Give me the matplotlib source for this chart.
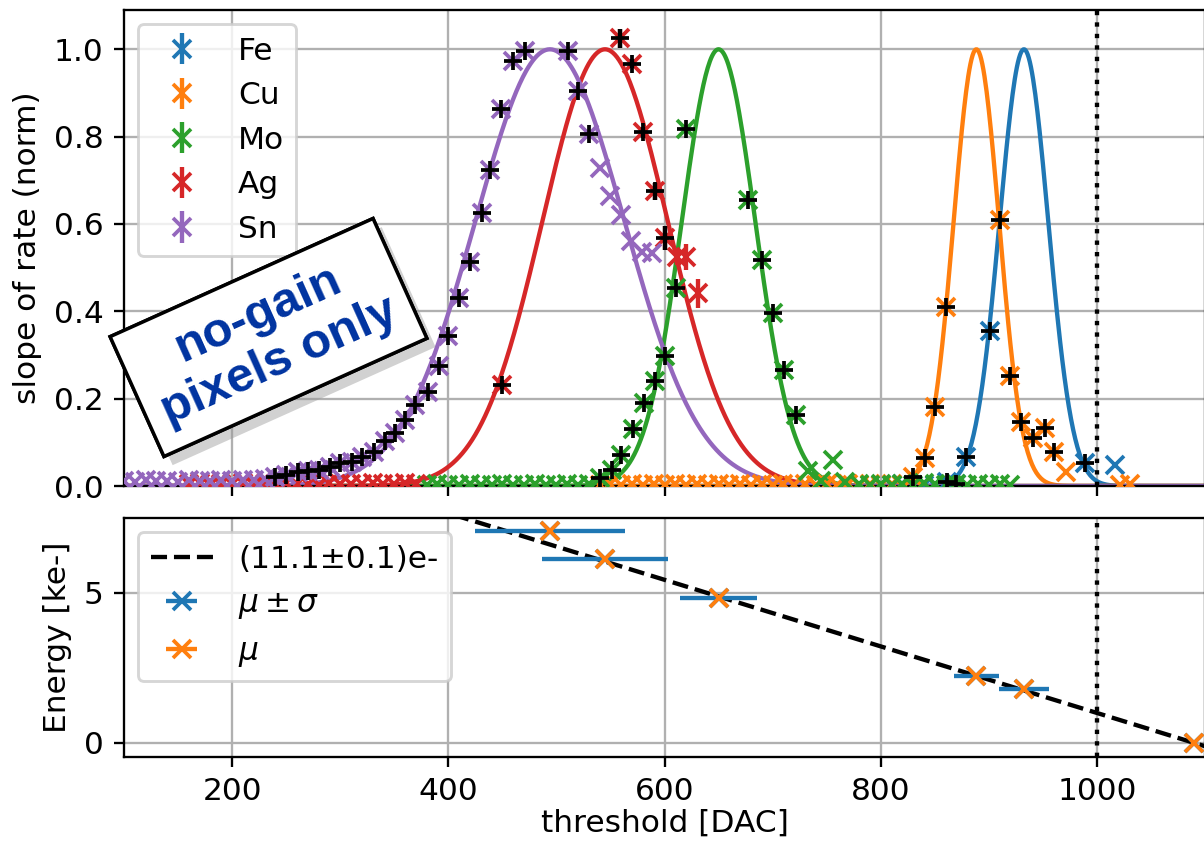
import numpy as np
import matplotlib
matplotlib.use("Agg")
import matplotlib.pyplot as plt
import matplotlib.patheffects as pe

plt.rcParams["font.size"] = 10.8

# ---------------- data ----------------
elements = ["Fe", "Cu", "Mo", "Ag", "Sn"]
colors = ["#1f77b4", "#ff7f0e", "#2ca02c", "#d62728", "#9467bd"]

# Gaussian fit parameters (DAC)
peak_mu = [932.5, 888.5, 650.0, 545.0, 494.0]
peak_sigma = [22.5, 21.0, 34.0, 58.0, 69.0]
# threshold range of points used in the fit (black markers)
fit_lo = [855, 825, 535, 445, 235]
fit_hi = [995, 965, 725, 605, 535]

fe_x = [800, 810, 820, 840, 850, 861, 870, 879, 901, 989, 1017]
fe_y = [0.003, 0.002, 0.004, 0.003, 0.002, 0.010, 0.004, 0.067, 0.354, 0.052, 0.048]

cu_x = [540, 550, 560, 570, 580, 590, 600, 610, 620, 630, 640, 650, 660, 670,
        680, 690, 700, 710, 720, 730, 740, 750, 760, 770, 780, 790, 800, 810,
        820, 830, 841, 850, 860, 910, 920, 930, 941, 952, 960, 971, 1021, 1031]
cu_y = [0.003, 0.004, 0.002, 0.005, 0.003, 0.004, 0.002, 0.005, 0.003, 0.004,
        0.002, 0.004, 0.003, 0.005, 0.002, 0.004, 0.003, 0.004, 0.002, 0.005,
        0.003, 0.004, 0.002, 0.004, 0.003, 0.005, 0.002, 0.004, 0.003, 0.020,
        0.064, 0.180, 0.411, 0.610, 0.252, 0.147, 0.110, 0.133, 0.079, 0.033,
        0.003, 0.005]

mo_x = [380, 390, 400, 410, 420, 430, 440, 450, 460, 470, 480, 490, 500, 510,
        520, 530, 540, 551, 560, 571, 581, 591, 600, 611, 620, 677, 690, 700,
        711, 722, 733, 745, 756, 767, 780, 790, 800, 810, 820, 830, 840, 850,
        860, 870, 880, 890, 900, 910, 920]
mo_y = [0.003, 0.004, 0.002, 0.003, 0.004, 0.002, 0.003, 0.004, 0.002, 0.003,
        0.004, 0.003, 0.002, 0.004, 0.003, 0.004, 0.018, 0.037, 0.071, 0.130,
        0.190, 0.240, 0.298, 0.454, 0.817, 0.656, 0.518, 0.397, 0.266, 0.163,
        0.035, 0.012, 0.060, 0.010, 0.004, 0.003, 0.005, 0.002, 0.004, 0.003,
        0.006, 0.004, 0.003, 0.005, 0.002, 0.004, 0.003, 0.004, 0.002]

ag_x = [160, 170, 180, 190, 200, 210, 220, 230, 240, 250, 260, 270, 280, 290,
        300, 310, 320, 330, 340, 350, 360, 370, 450, 559, 570, 580, 591, 600,
        612, 620, 631]
ag_y = [0.004, 0.006, 0.003, 0.005, 0.004, 0.006, 0.003, 0.005, 0.004, 0.006,
        0.004, 0.005, 0.003, 0.006, 0.004, 0.005, 0.004, 0.006, 0.004, 0.005,
        0.006, 0.005, 0.232, 1.025, 0.967, 0.810, 0.675, 0.568, 0.525, 0.525,
        0.441]
ag_err = [0.003, 0.003, 0.003, 0.003, 0.003, 0.003, 0.003, 0.003, 0.003, 0.003,
          0.003, 0.003, 0.003, 0.003, 0.003, 0.003, 0.003, 0.003, 0.003, 0.003,
          0.003, 0.003, 0.010, 0.022, 0.010, 0.012, 0.019, 0.027, 0.020, 0.030,
          0.033]

sn_x = [100, 110, 120, 130, 140, 150, 160, 170, 180, 190, 200, 210, 220, 230,
        240, 250, 261, 270, 280, 291, 300, 311, 320, 331, 341, 351, 360, 369,
        381, 391, 400, 410, 420, 431, 439, 449, 460, 471, 511, 520, 530, 540,
        550, 560, 569, 579, 588]
sn_y = [0.012, 0.010, 0.013, 0.011, 0.012, 0.010, 0.013, 0.012, 0.011, 0.013,
        0.012, 0.014, 0.013, 0.015, 0.021, 0.025, 0.031, 0.035, 0.037, 0.044,
        0.052, 0.056, 0.066, 0.079, 0.104, 0.122, 0.151, 0.186, 0.216, 0.275,
        0.344, 0.430, 0.513, 0.625, 0.724, 0.864, 0.973, 0.996, 0.996, 0.904,
        0.805, 0.728, 0.665, 0.621, 0.561, 0.536, 0.533]

small_err = 0.003

data_x = [fe_x, cu_x, mo_x, ag_x, sn_x]
data_y = [fe_y, cu_y, mo_y, ag_y, sn_y]
data_err = [None, None, None, ag_err, None]

# calibration panel
cal_mu = [932.5, 888.5, 650.0, 545.0, 494.0, 1090.0]
cal_sigma = [23.0, 21.0, 35.5, 58.0, 69.0, 0.0]
cal_energy = [1.80, 2.24, 4.82, 6.14, 7.05, 0.0]
gain_e_per_dac = 11.1
zero_dac = 1090.0
vline_dac = 1000

# ---------------- figure ----------------
DPI = 208
fig = plt.figure(figsize=(1204 / DPI, 842 / DPI), dpi=DPI)
W, H = 1204.0, 842.0
left = 124 / W
width = 1081 / W
ax1 = fig.add_axes([left, 1 - 486 / H, width, (486 - 10) / H])
ax2 = fig.add_axes([left, 1 - 757 / H, width, (757 - 518) / H], sharex=ax1)

xs = np.linspace(100, 1100, 1001)
handles = []
for i, el in enumerate(elements):
    x = np.array(data_x[i], dtype=float)
    y = np.array(data_y[i], dtype=float)
    err = np.array(data_err[i]) if data_err[i] is not None else np.full_like(y, small_err)
    h = ax1.errorbar(x, y, yerr=err, fmt="x", color=colors[i], ms=6, mew=1.3,
                     elinewidth=1.5, label=el, zorder=3)
    handles.append(h)
    ax1.plot(xs, np.exp(-0.5 * ((xs - peak_mu[i]) / peak_sigma[i]) ** 2),
             color=colors[i], lw=1.5, zorder=2)
for i, el in enumerate(elements):
    x = np.array(data_x[i], dtype=float)
    y = np.array(data_y[i], dtype=float)
    err = np.array(data_err[i]) if data_err[i] is not None else np.full_like(y, small_err)
    m = (x >= fit_lo[i]) & (x <= fit_hi[i])
    ax1.errorbar(x[m], y[m], yerr=err[m], fmt="+", color="k", ms=6, mew=1.3,
                 elinewidth=1.5, zorder=4)

ax1.axvline(vline_dac, color="k", ls=":", lw=1.5, zorder=5)
ax1.set_xlim(100, 1100)
ax1.set_ylim(0, 1.09)
ax1.set_yticks([0.0, 0.2, 0.4, 0.6, 0.8, 1.0])
ax1.set_ylabel("slope of rate (norm)")
ax1.grid(True, color="#b0b0b0", lw=0.8)
ax1.set_axisbelow(True)
ax1.tick_params(labelbottom=False)
ax1.legend(handles=handles, loc="upper left", borderaxespad=0.45)

# bottom panel
ax2.plot(xs, gain_e_per_dac / 1000.0 * (zero_dac - xs), "k--", lw=1.5,
         label="(11.1\u00b10.1)e-", zorder=2)
ax2.errorbar(cal_mu, cal_energy, xerr=cal_sigma, fmt="x", color="#1f77b4",
             ms=6, mew=1.3, elinewidth=1.5, label=r"$\mu\pm\sigma$", zorder=3)
ax2.errorbar(cal_mu, cal_energy, xerr=[0] * len(cal_mu), fmt="x", color="#ff7f0e",
             ms=6, mew=1.3, elinewidth=1.5, label=r"$\mu$", zorder=4)
ax2.axvline(vline_dac, color="k", ls=":", lw=1.5, zorder=5)
ax2.set_ylim(-0.47, 7.5)
ax2.set_yticks([0, 5])
ax2.set_xticks([200, 400, 600, 800, 1000])
ax2.set_xlim(100, 1100)
ax2.set_ylabel("Energy [ke-]")
ax2.set_xlabel("threshold [DAC]", labelpad=1)
ax2.grid(True, color="#b0b0b0", lw=0.8)
ax2.set_axisbelow(True)
ax2.legend(loc="upper left", borderaxespad=0.45)

# annotation
t = fig.text(268.5 / W, 1 - 337.5 / H, "no-gain\npixels only", ha="center",
             va="center", rotation=24.2, rotation_mode="anchor",
             multialignment="center", fontsize=17, fontweight="bold",
             family="Liberation Sans", color="#0033a0", linespacing=1.2,
             bbox=dict(boxstyle="square,pad=0.35", fc="white", ec="black", lw=1.2),
             zorder=10)
t.get_bbox_patch().set_path_effects([
    pe.withSimplePatchShadow(offset=(3, -3), shadow_rgbFace="#999999", alpha=0.45),
    pe.Normal()])

fig.savefig("out.png", dpi=DPI)
